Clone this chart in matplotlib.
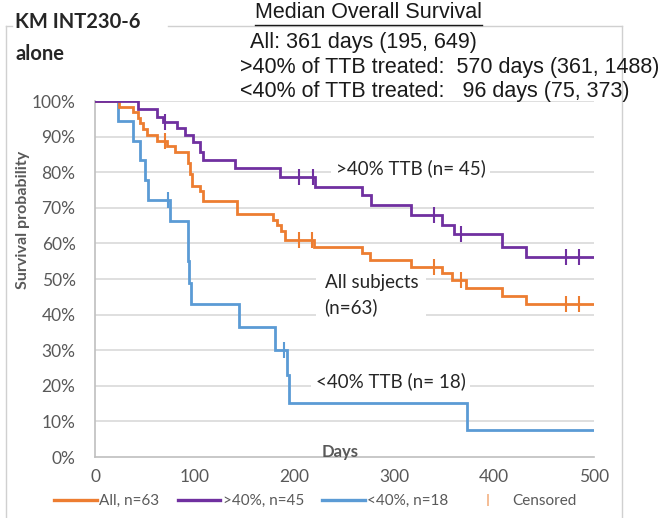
import matplotlib
matplotlib.use("Agg")
import matplotlib.pyplot as plt
from matplotlib.lines import Line2D
import numpy as np

# ---------------- data ----------------
all_days = [0, 24, 38, 43, 45, 48, 52, 62, 72, 80, 93, 95, 97, 105, 108, 142, 178, 182, 186, 190,
            219, 268, 276, 317, 348, 358, 372, 408, 432, 500]
all_surv = [1.0, 0.984, 0.968, 0.952, 0.937, 0.921, 0.905, 0.889, 0.873, 0.857, 0.825, 0.794, 0.762,
            0.746, 0.72, 0.683, 0.667, 0.651, 0.635, 0.61, 0.59, 0.573, 0.553, 0.535, 0.517, 0.498,
            0.476, 0.452, 0.43, 0.43]
all_cens = [70, 204, 217, 340, 367, 472, 485]

hi_days = [0, 43, 62, 68, 82, 90, 98, 105, 108, 140, 185, 220, 268, 277, 317, 348, 360, 408, 432, 500]
hi_surv = [1.0, 0.978, 0.956, 0.94, 0.924, 0.904, 0.885, 0.857, 0.834, 0.812, 0.787, 0.758, 0.736,
           0.708, 0.68, 0.652, 0.627, 0.59, 0.562, 0.562]
hi_cens = [70, 204, 218, 340, 367, 472, 485]

lo_days = [0, 23, 38, 45, 50, 53, 75, 93, 94, 96, 144, 180, 192, 194, 373, 500]
lo_surv = [1.0, 0.944, 0.889, 0.833, 0.778, 0.722, 0.662, 0.55, 0.49, 0.43, 0.365, 0.30, 0.23,
           0.153, 0.077, 0.077]
lo_cens = [73, 189]

series_labels = ["All, n=63", ">40%, n=45", "<40%, n=18"]
x_ticks = [0, 100, 200, 300, 400, 500]
y_ticks = [0, 0.1, 0.2, 0.3, 0.4, 0.5, 0.6, 0.7, 0.8, 0.9, 1.0]

median_title = "Median Overall Survival"
median_lines = ["All: 361 days (195, 649)",
                ">40% of TTB treated:  570 days (361, 1488)",
                "<40% of TTB treated:   96 days (75, 373)"]

# ---------------- style ----------------
W, H = 668, 518
C_ALL = "#ED7D31"
C_HI = "#7030A0"
C_LO = "#5B9BD5"
GRID = "#D9D9D9"
TXT = "#595959"
FONT = ["Lato", "DejaVu Sans"]
ARIAL = ["Liberation Sans", "DejaVu Sans"]

def fx(px):
    return px / W

def fy(py):
    return 1 - py / H

fig = plt.figure(figsize=(W / 100, H / 100), dpi=100)
fig.patch.set_facecolor("white")

# outer chart frame
frame_col = "#D0D0D0"
fig.add_artist(Line2D([fx(6), fx(6)], [fy(26), fy(518)], color=frame_col, lw=1))
fig.add_artist(Line2D([fx(6), fx(12)], [fy(26), fy(26)], color=frame_col, lw=1))
fig.add_artist(Line2D([fx(168), fx(622)], [fy(26), fy(26)], color=frame_col, lw=1, zorder=0))
fig.add_artist(Line2D([fx(622), fx(622)], [fy(26), fy(518)], color=frame_col, lw=1, zorder=0))

ax = fig.add_axes([fx(95), fy(457), (594 - 95) / W, (457 - 101) / H])
ax.set_xlim(0, 500)
ax.set_ylim(0, 1)

for s in ["top", "right"]:
    ax.spines[s].set_visible(False)
for s in ["left", "bottom"]:
    ax.spines[s].set_color("#BFBFBF")
    ax.spines[s].set_linewidth(1.2)

ax.set_yticks(y_ticks)
ax.set_yticklabels([f"{int(round(v * 100))}%" for v in y_ticks])
ax.set_xticks(x_ticks)
ax.set_xticklabels([str(v) for v in x_ticks])
ax.tick_params(axis="both", length=0, labelsize=12.5, labelcolor=TXT)
ax.tick_params(axis="y", pad=14)
ax.tick_params(axis="x", pad=9)
for lab in ax.get_xticklabels() + ax.get_yticklabels():
    lab.set_family(FONT)

for v in y_ticks[1:]:
    ax.axhline(v, color=GRID, lw=1.2, zorder=0)

def step_val(days, surv, d):
    i = np.searchsorted(days, d, side="right") - 1
    return surv[i]

LW = 2.0
for days, surv, cens, col in [(lo_days, lo_surv, lo_cens, C_LO),
                              (all_days, all_surv, all_cens, C_ALL),
                              (hi_days, hi_surv, hi_cens, C_HI)]:
    ax.step(days, surv, where="post", color=col, lw=LW, zorder=3, solid_joinstyle="miter")
    cy = [step_val(days, surv, d) for d in cens]
    ax.plot(cens, cy, linestyle="none", marker="|", markersize=11, mew=1.5, color=col, zorder=4)

# in-plot annotations
ANN = 13.5
box = dict(facecolor="white", edgecolor="none", pad=3)
ax.text(241, 0.812, ">40% TTB (n= 45)", fontsize=ANN, family=FONT, color="#262626",
        va="center", ha="left", bbox=box, zorder=2)
ax.text(230, 0.455, "All subjects\n(n=63)", fontsize=ANN, family=FONT, color="#262626",
        va="center", ha="left", bbox=dict(facecolor="white", edgecolor="none", pad=6),
        linespacing=1.5, zorder=2)
ax.text(221, 0.213, "<40% TTB (n= 18)", fontsize=ANN, family=FONT, color="#262626",
        va="center", ha="left", bbox=box, zorder=2)

# axis titles
fig.text(fx(340), fy(452), "Days", fontsize=12, family=FONT, fontweight="bold",
         color=TXT, ha="center", va="center")
fig.text(fx(23), fy(220), "Survival probability", fontsize=11.5, family=FONT,
         fontweight="bold", color=TXT, ha="center", va="center", rotation=90)

# chart title
fig.text(fx(15), fy(22), "KM INT230-6", fontsize=14.5, family=FONT, fontweight="bold",
         color="#262626", ha="left", va="center")
fig.text(fx(15), fy(54), "alone", fontsize=14.5, family=FONT, fontweight="bold",
         color="#262626", ha="left", va="center")

# median overall survival block
MF = 15.5
t = fig.text(fx(255), fy(13), median_title, fontsize=MF, family=ARIAL, color="#1a1a1a",
             ha="left", va="center")
fig.text(fx(250), fy(42), median_lines[0], fontsize=MF, family=ARIAL, color="#1a1a1a",
         ha="left", va="center")
fig.text(fx(240), fy(67), median_lines[1], fontsize=MF, family=ARIAL, color="#1a1a1a",
         ha="left", va="center")
fig.text(fx(240), fy(91), median_lines[2], fontsize=MF, family=ARIAL, color="#1a1a1a",
         ha="left", va="center")

fig.canvas.draw()
bb = t.get_window_extent(fig.canvas.get_renderer())
fig.add_artist(Line2D([bb.x0 / W, bb.x1 / W], [fy(25), fy(25)], color="#1a1a1a", lw=1))

# legend
handles = [Line2D([], [], color=C_ALL, lw=2.4),
           Line2D([], [], color=C_HI, lw=2.4),
           Line2D([], [], color=C_LO, lw=2.4),
           Line2D([], [], color="#F4B183", linestyle="none", marker="|", markersize=8, mew=1.2)]
leg = fig.legend(handles, series_labels + ["Censored"], loc="center left",
                 bbox_to_anchor=(fx(54), fy(501)), ncol=4, frameon=False,
                 prop={"family": FONT, "size": 11}, handlelength=2.8, handletextpad=0.15,
                 columnspacing=1.2, borderaxespad=0, borderpad=0)
for txt in leg.get_texts():
    txt.set_color(TXT)

fig.savefig("out.png", dpi=100, facecolor="white")
